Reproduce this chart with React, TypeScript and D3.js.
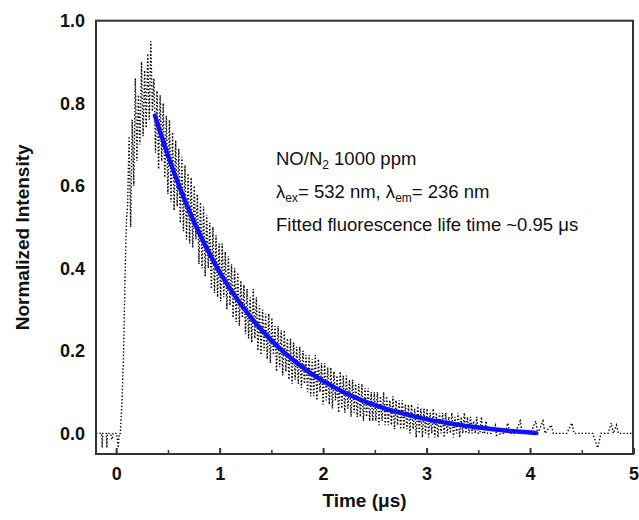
import React from "react";
import * as d3 from "d3";

// ---- data ----
const xTicks = [0, 1, 2, 3, 4, 5];
const xMinorTicks = [0.5, 1.5, 2.5, 3.5, 4.5];
const yTicks = [0, 0.2, 0.4, 0.6, 0.8, 1.0];

// pre-trigger baseline and rising edge: [time µs, intensity]
const preTrace: [number, number][] = [
  [-0.2, 0.0], [-0.17, 0.0], [-0.145, 0.0], [-0.14, -0.035], [-0.135, 0.0],
  [-0.1, 0.0], [-0.095, -0.035], [-0.09, 0.0], [-0.06, 0.0], [-0.045, -0.015],
  [-0.035, 0.0], [0.0, 0.0], [0.015, -0.035], [0.025, 0.0], [0.035, 0.0],
  [0.05, 0.07], [0.065, 0.18], [0.08, 0.37], [0.095, 0.52],
];

// densely sampled decay trace, regular sampling
const denseStart = 0.105;
const denseStep = 0.015;
const denseValues = [
  0.55, 0.72, 0.50, 0.76, 0.60, 0.86, 0.66, 0.82, 0.70, 0.90,
  0.72, 0.88, 0.74, 0.92, 0.76, 0.95, 0.78, 0.86, 0.68, 0.83,
  0.64, 0.82, 0.66, 0.80, 0.62, 0.77, 0.58, 0.76, 0.56, 0.73,
  0.54, 0.71, 0.55, 0.69, 0.51, 0.67, 0.49, 0.65, 0.47, 0.63,
  0.46, 0.62, 0.45, 0.60, 0.47, 0.58, 0.41, 0.56, 0.40, 0.55,
  0.38, 0.53, 0.40, 0.51, 0.35, 0.50, 0.34, 0.48, 0.33, 0.46,
  0.32, 0.46, 0.33, 0.44, 0.30, 0.43, 0.31, 0.41, 0.28, 0.40,
  0.27, 0.39, 0.26, 0.37, 0.28, 0.36, 0.24, 0.35, 0.23, 0.33,
  0.22, 0.35, 0.23, 0.33, 0.20, 0.31, 0.19, 0.30, 0.20, 0.29,
  0.18, 0.29, 0.17, 0.28, 0.19, 0.26, 0.15, 0.26, 0.16, 0.25,
  0.14, 0.25, 0.15, 0.23, 0.13, 0.23, 0.12, 0.22, 0.13, 0.21,
  0.12, 0.21, 0.11, 0.20, 0.12, 0.19, 0.10, 0.19, 0.09, 0.18,
  0.09, 0.19, 0.08, 0.18, 0.10, 0.17, 0.07, 0.17, 0.08, 0.16,
  0.07, 0.16, 0.06, 0.15, 0.08, 0.14, 0.05, 0.15, 0.06, 0.14,
  0.05, 0.14, 0.06, 0.13, 0.04, 0.13, 0.05, 0.12, 0.04, 0.12,
  0.04, 0.12, 0.03, 0.11, 0.04, 0.11, 0.03, 0.10, 0.03, 0.10,
  0.03, 0.10, 0.02, 0.09, 0.03, 0.10, 0.02, 0.09, 0.02, 0.08,
  0.02, 0.09, 0.01, 0.08, 0.02, 0.08, 0.01, 0.08, 0.01, 0.07,
  0.01, 0.07, 0.00, 0.07, 0.01, 0.06, -0.01, 0.07, 0.00, 0.06,
  -0.01, 0.06, 0.00, 0.06, -0.01, 0.05, 0.00, 0.06, -0.01, 0.05,
  -0.01, 0.05, 0.00, 0.05, -0.01, 0.05, 0.00, 0.04, 0.00, 0.05,
  -0.01, 0.04, 0.00, 0.05, -0.01, 0.04, 0.00, 0.05, 0.00, 0.04,
  0.00, 0.04, 0.00, 0.03, 0.00, 0.04, 0.00, 0.00, 0.04, 0.00,
  0.00, 0.03, 0.00, 0.00,
];

// sparse tail after the decay
const tailTrace: [number, number][] = [
  [3.62, 0.0], [3.66, 0.02], [3.67, -0.005], [3.72, 0.0], [3.75, 0.0],
  [3.78, 0.025], [3.8, 0.0], [3.85, 0.0], [3.9, 0.03], [3.92, 0.0],
  [4.0, 0.0], [4.05, 0.03], [4.07, 0.0], [4.12, 0.03], [4.14, 0.0],
  [4.2, 0.02], [4.22, 0.0], [4.35, 0.0], [4.4, 0.025], [4.42, 0.0],
  [4.6, 0.0], [4.65, -0.035], [4.68, 0.0], [4.75, 0.0], [4.78, 0.025],
  [4.8, 0.0], [4.83, 0.02], [4.85, 0.0], [4.98, 0.0],
];

// fitted exponential decay curve (blue)
const fitTimes = [0.37, 0.5, 0.75, 1.0, 1.25, 1.5, 1.75, 2.0, 2.25, 2.5, 2.75, 3.0, 3.25, 3.5, 3.75, 4.05];
const fitValues = [0.77, 0.67, 0.511, 0.389, 0.296, 0.224, 0.169, 0.126, 0.093, 0.068, 0.049, 0.034, 0.023, 0.014, 0.007, 0.001];

// ---- layout ----
const W = 639;
const H = 520;
const PL = 96;
const PR = 633;
const PT = 20.7;
const PB = 454;
const FONT = "'Liberation Sans', Arial, Helvetica, sans-serif";

export default function App() {
  const x = d3.scaleLinear().domain([-0.2, 5.0]).range([PL, PR + 1]);
  const y = d3.scaleLinear().domain([-0.05, 1.0]).range([PB, PT]);

  const dense: [number, number][] = denseValues.map((v, i) => [denseStart + i * denseStep, v]);
  const trace: [number, number][] = [...preTrace, ...dense, ...tailTrace];
  const fit: [number, number][] = fitTimes.map((t, i) => [t, fitValues[i]]);

  const line = d3
    .line<[number, number]>()
    .x((d) => x(d[0]))
    .y((d) => y(d[1]));
  const fitLine = d3
    .line<[number, number]>()
    .x((d) => x(d[0]))
    .y((d) => y(d[1]))
    .curve(d3.curveMonotoneX);

  const annX = 276;

  return (
    <svg
      width={W}
      height={H}
      style={{ position: "absolute", left: 0, top: 0, background: "#fff" }}
      fontFamily={FONT}
    >
      <rect x={0} y={0} width={W} height={H} fill="#fff" />
      <defs>
        <clipPath id="plotClip">
          <rect x={PL} y={PT} width={PR - PL} height={PB - PT} />
        </clipPath>
      </defs>
      <g clipPath="url(#plotClip)">
        <path
          d={line(trace) || ""}
          fill="none"
          stroke="#000"
          strokeWidth={1.4}
          strokeDasharray="1.4,2"
        />
        <path
          d={fitLine(fit) || ""}
          fill="none"
          stroke="#1010ff"
          strokeWidth={4.5}
          strokeLinecap="round"
        />
      </g>
      {/* frame */}
      <rect x={PL} y={PT} width={PR - PL} height={PB - PT} fill="none" stroke="#333" strokeWidth={2} />
      {/* bottom ticks (inward) */}
      {xTicks.map((t) => (
        <line key={"M" + t} x1={x(t)} x2={x(t)} y1={PB} y2={PB - 6} stroke="#333" strokeWidth={2} />
      ))}
      {xMinorTicks.map((t) => (
        <line key={"m" + t} x1={x(t)} x2={x(t)} y1={PB} y2={PB - 4} stroke="#333" strokeWidth={1.5} />
      ))}
      {/* tick labels */}
      {xTicks.map((t) => (
        <text key={"xl" + t} x={x(t)} y={479.5} textAnchor="middle" fontSize={18} fontWeight="bold" fill="#111">
          {d3.format("d")(t)}
        </text>
      ))}
      {yTicks.map((t) => (
        <text key={"yl" + t} x={85} y={y(t) + 6.5} textAnchor="end" fontSize={18} fontWeight="bold" fill="#111">
          {d3.format(".1f")(t)}
        </text>
      ))}
      {/* axis titles */}
      <text x={(PL + PR) / 2} y={507} textAnchor="middle" fontSize={19} fontWeight="bold" fill="#111">
        Time (μs)
      </text>
      <text
        transform={`translate(29,${(PT + PB) / 2}) rotate(-90)`}
        textAnchor="middle"
        fontSize={19}
        fontWeight="bold"
        fill="#111"
      >
        Normalized Intensity
      </text>
      {/* annotation */}
      <g fontSize={18.5} fill="#111">
        <text x={annX} y={165}>
          NO/N<tspan fontSize={12} dy={4}>2</tspan>
          <tspan dy={-4}> 1000 ppm</tspan>
        </text>
        <text x={annX} y={198}>
          λ<tspan fontSize={12} dy={4}>ex</tspan>
          <tspan dy={-4}>= 532 nm, λ</tspan>
          <tspan fontSize={12} dy={4}>em</tspan>
          <tspan dy={-4}>= 236 nm</tspan>
        </text>
        <text x={annX} y={231}>
          Fitted fluorescence life time ~0.95 μs
        </text>
      </g>
    </svg>
  );
}
